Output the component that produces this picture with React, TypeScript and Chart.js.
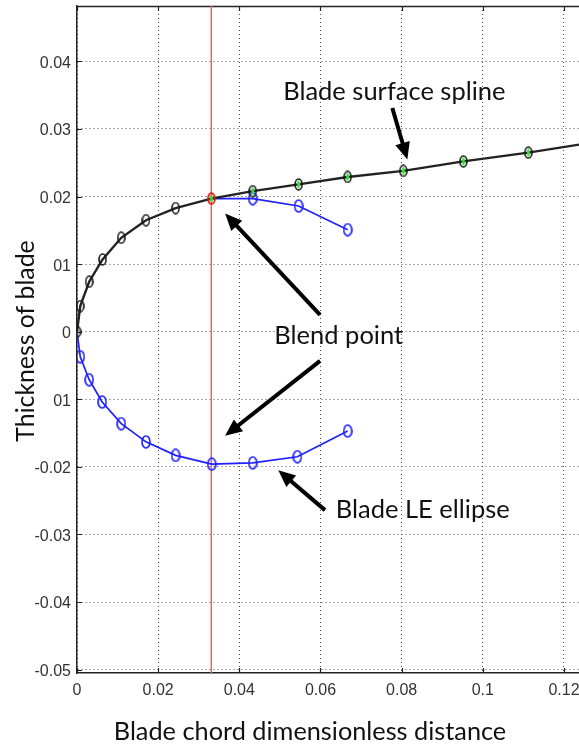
import { useEffect, useRef } from "react";
import { Chart, registerables } from "chart.js";

Chart.register(...registerables);

// ---- axis ranges & ticks ----
const X_MIN = 0;
const X_MAX = 0.1237;
const Y_MIN = -0.0505;
const Y_MAX = 0.0482;

const xTicks = [0, 0.02, 0.04, 0.06, 0.08, 0.1, 0.12];
const xTickLabels = ["0", "0.02", "0.04", "0.06", "0.08", "0.1", "0.12"];
const yTicks = [-0.05, -0.04, -0.03, -0.02, -0.01, 0, 0.01, 0.02, 0.03, 0.04];
const yTickLabels = ["-0.05", "-0.04", "-0.03", "-0.02", "-0.01", "0", "0.01", "0.02", "0.03", "0.04"];

// ---- blade surface spline (upper LE + surface), black ----
const splineX = [0, 0.0008, 0.003, 0.0063, 0.0109, 0.017, 0.0243, 0.0331, 0.0433, 0.0546, 0.0667, 0.0804, 0.0952, 0.1112, 0.127];
const splineY = [0, 0.0038, 0.0074, 0.0107, 0.0139, 0.0165, 0.0183, 0.0197, 0.0208, 0.0218, 0.0229, 0.0238, 0.0252, 0.0265, 0.028];

// ---- LE ellipse, upper continuation past blend point, blue ----
const ellipseUpperX = [0.0331, 0.0433, 0.0546, 0.0667];
const ellipseUpperY = [0.0197, 0.0197, 0.0186, 0.0151];

// ---- LE ellipse, lower half, blue ----
const ellipseLowerX = [0, 0.0008, 0.003, 0.0062, 0.0109, 0.017, 0.0243, 0.0332, 0.0433, 0.0543, 0.0667];
const ellipseLowerY = [0, -0.0037, -0.0071, -0.0104, -0.0136, -0.0163, -0.0183, -0.0196, -0.0194, -0.0185, -0.0147];

// ---- blend location (red vertical line) ----
const blendX = 0.0331;

// ---- annotations (data coordinates) ----
const annotationTexts = ["Blade surface spline", "Blend point", "Blade LE ellipse"];
const annotationAt = [
  [0.0782, 0.0343],
  [0.0645, -0.0018],
  [0.0852, -0.0276],
];
const arrowFrom = [
  [0.0777, 0.0331],
  [0.0599, 0.00248],
  [0.0599, -0.00432],
  [0.0611, -0.0264],
];
const arrowTo = [
  [0.0814, 0.0255],
  [0.0365, 0.0175],
  [0.0365, -0.0154],
  [0.0496, -0.0205],
];

const xTitle = "Blade chord dimensionless distance";
const yTitle = "Thickness of blade";

const TICK_FONT = "'Liberation Sans Narrow', 'Arial Narrow', 'Liberation Sans', sans-serif";
const TEXT_FONT = "Lato, 'Open Sans', sans-serif";

function marker(stroke: string, inner: string | null, w = 9, h = 13, lw = 1.6) {
  const c = document.createElement("canvas");
  c.width = w;
  c.height = h;
  const ctx = c.getContext("2d")!;
  if (inner) {
    ctx.fillStyle = inner;
    ctx.beginPath();
    ctx.ellipse(w / 2, h / 2, 1.4, h / 2 - 2.6, 0, 0, Math.PI * 2);
    ctx.fill();
  }
  ctx.strokeStyle = stroke;
  ctx.lineWidth = lw;
  ctx.beginPath();
  ctx.ellipse(w / 2, h / 2, w / 2 - lw / 2 - 0.2, h / 2 - lw / 2 - 0.2, 0, 0, Math.PI * 2);
  ctx.stroke();
  return c;
}

function drawArrow(ctx: CanvasRenderingContext2D, x1: number, y1: number, x2: number, y2: number) {
  const ang = Math.atan2(y2 - y1, x2 - x1);
  const headLen = 17;
  const headHalf = 7.5;
  const bx = x2 - Math.cos(ang) * headLen;
  const by = y2 - Math.sin(ang) * headLen;
  ctx.beginPath();
  ctx.moveTo(x1, y1);
  ctx.lineTo(bx + Math.cos(ang) * 2, by + Math.sin(ang) * 2);
  ctx.stroke();
  ctx.beginPath();
  ctx.moveTo(x2, y2);
  ctx.lineTo(bx + Math.cos(ang + Math.PI / 2) * headHalf, by + Math.sin(ang + Math.PI / 2) * headHalf);
  ctx.lineTo(bx - Math.cos(ang + Math.PI / 2) * headHalf, by - Math.sin(ang + Math.PI / 2) * headHalf);
  ctx.closePath();
  ctx.fill();
}

const decorPlugin = {
  id: "decor",
  beforeDatasetsDraw(chart: any) {
    const { ctx, chartArea: a, scales } = chart;
    const x = scales.x;
    const y = scales.y;
    ctx.save();
    ctx.strokeStyle = "#222";
    ctx.lineWidth = 1.5;
    ctx.beginPath();
    ctx.moveTo(a.left, a.top + 0.5);
    ctx.lineTo(a.right, a.top + 0.5);
    ctx.stroke();
    ctx.lineWidth = 1.2;
    ctx.beginPath();
    for (const v of yTicks) {
      const py = Math.round(y.getPixelForValue(v)) + 0.5;
      ctx.moveTo(a.left, py);
      ctx.lineTo(a.left + 5, py);
    }
    for (const v of xTicks) {
      const px = Math.round(x.getPixelForValue(v)) + 0.5;
      ctx.moveTo(px, a.bottom);
      ctx.lineTo(px, a.bottom - 5);
      ctx.moveTo(px, a.top);
      ctx.lineTo(px, a.top + 5);
    }
    ctx.stroke();
    ctx.restore();
  },
  afterDatasetsDraw(chart: any) {
    const { ctx, scales } = chart;
    const x = scales.x;
    const y = scales.y;
    ctx.save();
    ctx.strokeStyle = "#000";
    ctx.fillStyle = "#000";
    ctx.lineWidth = 4;
    ctx.lineCap = "butt";
    for (let i = 0; i < arrowFrom.length; i++) {
      drawArrow(
        ctx,
        x.getPixelForValue(arrowFrom[i][0]),
        y.getPixelForValue(arrowFrom[i][1]),
        x.getPixelForValue(arrowTo[i][0]),
        y.getPixelForValue(arrowTo[i][1])
      );
    }
    ctx.fillStyle = "#111";
    ctx.font = `25.5px ${TEXT_FONT}`;
    ctx.textAlign = "center";
    ctx.textBaseline = "alphabetic";
    for (let i = 0; i < annotationTexts.length; i++) {
      ctx.fillText(
        annotationTexts[i],
        x.getPixelForValue(annotationAt[i][0]),
        y.getPixelForValue(annotationAt[i][1])
      );
    }
    ctx.restore();
  },
  afterDraw(chart: any) {
    const { ctx } = chart;
    ctx.save();
    // y title with its white text box
    ctx.fillStyle = "#fff";
    ctx.fillRect(0, 238, 52, 210);
    ctx.fillStyle = "#111";
    ctx.font = `24.8px ${TEXT_FONT}`;
    ctx.translate(26, 341);
    ctx.rotate(-Math.PI / 2);
    ctx.textAlign = "center";
    ctx.textBaseline = "middle";
    ctx.fillText(yTitle, 0, 0);
    ctx.restore();
    ctx.save();
    ctx.fillStyle = "#111";
    ctx.font = `25.3px ${TEXT_FONT}`;
    ctx.textAlign = "center";
    ctx.textBaseline = "alphabetic";
    ctx.fillText(xTitle, 310, 740);
    ctx.restore();
  },
};

export default function App() {
  const ref = useRef<HTMLCanvasElement>(null);

  useEffect(() => {
    const canvas = ref.current!;
    const mBlack = marker("#151515", null);
    const mGreen = marker("#151515", "#3cdc3c");
    const mRed = marker("#e01010", "#3cdc3c", 9, 13, 1.7);
    const mBlue = marker("#1f1fff", null, 10, 14, 1.6);

    const splineData = splineX.map((v, i) => ({ x: v, y: splineY[i] }));
    const splineStyles = splineX.map((v, i) =>
      i === splineX.length - 1 ? false : v < blendX - 0.0005 ? mBlack : Math.abs(v - blendX) < 0.0005 ? mRed : mGreen
    );
    const splineRadius = splineX.map((_, i) => (i === splineX.length - 1 ? 0 : 6));

    const upperData = ellipseUpperX.map((v, i) => ({ x: v, y: ellipseUpperY[i] }));
    const lowerData = ellipseLowerX.map((v, i) => ({ x: v, y: ellipseLowerY[i] }));
    const lowerRadius = ellipseLowerX.map((_, i) => (i === 0 ? 0 : 6));
    const upperRadius = ellipseUpperX.map((_, i) => (i === 0 ? 0 : 6));

    const chart = new Chart(canvas, {
      type: "line",
      data: {
        datasets: [
          {
            label: "Blade surface spline",
            data: splineData,
            borderColor: "#222",
            borderWidth: 2.4,
            pointStyle: splineStyles as any,
            pointRadius: splineRadius,
            tension: 0,
          },
          {
            label: "Blade LE ellipse (upper)",
            data: upperData,
            borderColor: "#1f1fff",
            borderWidth: 1.7,
            pointStyle: mBlue as any,
            pointRadius: upperRadius,
            tension: 0,
          },
          {
            label: "Blade LE ellipse",
            data: lowerData,
            borderColor: "#1f1fff",
            borderWidth: 1.7,
            pointStyle: mBlue as any,
            pointRadius: lowerRadius,
            tension: 0,
          },
          {
            label: "Blend",
            data: [
              { x: blendX, y: Y_MIN },
              { x: blendX, y: Y_MAX },
            ],
            borderColor: "#ff5a5a",
            borderWidth: 1.5,
            pointRadius: 0,
          },
        ],
      },
      options: {
        responsive: false,
        animation: false,
        devicePixelRatio: 1,
        layout: { autoPadding: false, padding: { top: 6, left: 0, right: 0, bottom: 0 } },
        plugins: { legend: { display: false }, tooltip: { enabled: false } },
        scales: {
          x: {
            type: "linear",
            min: X_MIN,
            max: X_MAX,
            afterFit: (s: any) => {
              s.height = 76;
              s.paddingLeft = 0;
              s.paddingRight = 0;
            },
            afterBuildTicks: (s: any) => {
              s.ticks = xTicks.map((value) => ({ value }));
            },
            ticks: {
              callback: (_v: any, i: number) => xTickLabels[i],
              font: { family: TICK_FONT, size: 16 },
              color: "#333",
              padding: 8,
              maxRotation: 0,
              autoSkip: false,
            },
            grid: { color: "rgba(50,50,50,0.85)", lineWidth: 1, drawTicks: false },
            border: { color: "#222", width: 1.5, dash: [1, 3] },
          },
          y: {
            type: "linear",
            min: Y_MIN,
            max: Y_MAX,
            afterFit: (s: any) => {
              s.width = 77;
              s.paddingTop = 0;
              s.paddingBottom = 0;
            },
            afterBuildTicks: (s: any) => {
              s.ticks = yTicks.map((value) => ({ value }));
            },
            ticks: {
              callback: (_v: any, i: number) => yTickLabels[i],
              font: { family: TICK_FONT, size: 16 },
              color: "#333",
              padding: 6,
              labelOffset: 2,
              autoSkip: false,
            },
            grid: { color: "rgba(50,50,50,0.85)", lineWidth: 1, drawTicks: false },
            border: { color: "#222", width: 1.5, dash: [1, 3] },
          },
        },
      },
      plugins: [decorPlugin],
    });
    return () => chart.destroy();
  }, []);

  return (
    <div style={{ position: "fixed", left: 0, top: 0, width: 579, height: 749, background: "#fff" }}>
      <canvas ref={ref} width={579} height={749} style={{ display: "block" }} />
    </div>
  );
}
